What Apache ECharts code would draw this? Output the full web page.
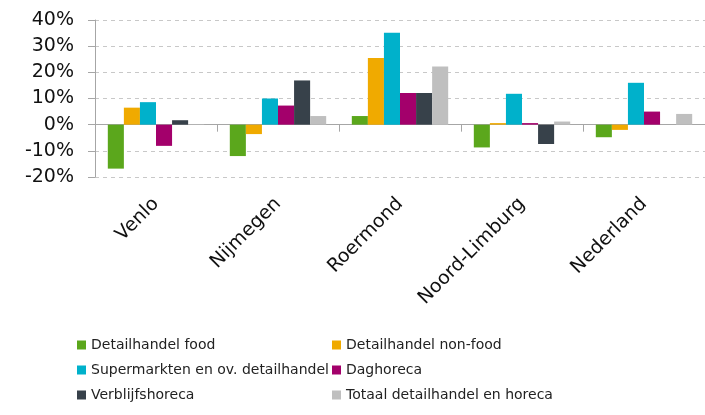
<!DOCTYPE html>
<html>
<head>
<meta charset="utf-8">
<script src="https://cdn.jsdelivr.net/npm/echarts@6/dist/echarts.min.js"></script>
<style>
  html, body { margin: 0; padding: 0; background: #fff; }
  #chart { width: 705px; height: 415px; }
</style>
</head>
<body>
<div id="chart"></div>
<script>
  // regio's
  var categories = ['Venlo', 'Nijmegen', 'Roermond', 'Noord-Limburg', 'Nederland']
  // reeksen (procentuele verandering)
  var seriesNames = ['Detailhandel food', 'Detailhandel non-food', 'Supermarkten en ov. detailhandel', 'Daghoreca', 'Verblijfshoreca', 'Totaal detailhandel en horeca']
  var food = [-16.8, -12.0, 3.3, -8.7, -4.8]
  var nonFood = [6.5, -3.6, 25.5, 0.6, -2.0]
  var supermarkten = [8.6, 10.0, 35.1, 11.8, 16.0]
  var daghoreca = [-8.1, 7.3, 12.1, 0.6, 5.0]
  var verblijf = [1.7, 16.9, 12.1, -7.4, 0]
  var totaal = [0.2, 3.3, 22.2, 1.2, 4.1]
  var yTicks = [-20, -10, 0, 10, 20, 30, 40]

  var colors = ['#5ba71c', '#f0aa00', '#00b1cb', '#a3006b', '#37414a', '#bfbfbf']
  var allData = [food, nonFood, supermarkten, daghoreca, verblijf, totaal]
  var font = 'DejaVu Sans'

  var chart = echarts.init(document.getElementById('chart'))
  chart.setOption({
    animation: false,
    color: colors,
    grid: { left: 95, right: 0, top: 20, bottom: 238 },
    legend: [
      {
        orient: 'vertical', left: 77, top: 338, padding: 0, itemWidth: 9, itemHeight: 9, itemGap: 11,
        icon: 'rect', textStyle: { fontFamily: font, fontSize: 14, color: '#222' },
        data: [seriesNames[0], seriesNames[2], seriesNames[4]]
      },
      {
        orient: 'vertical', left: 332, top: 338, padding: 0, itemWidth: 9, itemHeight: 9, itemGap: 11,
        icon: 'rect', textStyle: { fontFamily: font, fontSize: 14, color: '#222' },
        data: [seriesNames[1], seriesNames[3], seriesNames[5]]
      }
    ],
    xAxis: [
      {
        type: 'category',
        data: categories,
        position: 'bottom',
        axisLine: { show: false, onZero: false },
        axisTick: { show: false },
        axisLabel: { rotate: 45, margin: 24, fontFamily: font, fontSize: 19, color: '#111' }
      },
      {
        type: 'category',
        data: categories,
        position: 'bottom',
        axisLine: { show: true, onZero: true, lineStyle: { color: '#a6a6a6', width: 1 } },
        axisTick: { show: true, length: 7, lineStyle: { color: '#a6a6a6' } },
        axisLabel: { show: false }
      }
    ],
    yAxis: {
      type: 'value',
      min: yTicks[0],
      max: yTicks[yTicks.length - 1],
      interval: 10,
      axisLine: { show: true, lineStyle: { color: '#a6a6a6' } },
      axisTick: { show: true, length: 7, lineStyle: { color: '#a6a6a6' } },
      axisLabel: { formatter: '{value}%', margin: 21, fontFamily: font, fontSize: 19, color: '#111' },
      splitLine: { show: true, lineStyle: { color: '#c8c8c8', type: [4, 4] } }
    },
    series: seriesNames.map(function (name, i) {
      return {
        name: name,
        type: 'bar',
        data: allData[i],
        barGap: 0,
        barCategoryGap: '21%'
      }
    })
  })
</script>
</body>
</html>
